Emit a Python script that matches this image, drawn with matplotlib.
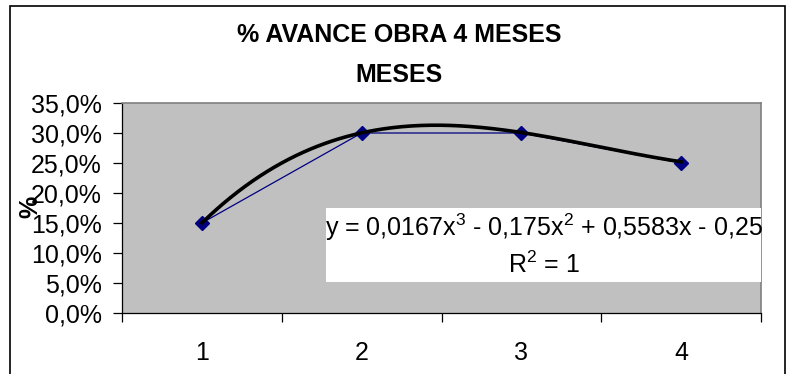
import matplotlib
matplotlib.use("Agg")
import matplotlib.pyplot as plt
from matplotlib.patches import Rectangle
from matplotlib.ticker import FuncFormatter
import numpy as np

plt.rcParams['font.family'] = ['Liberation Sans', 'DejaVu Sans']
plt.rcParams['mathtext.fontset'] = 'custom'
plt.rcParams['mathtext.rm'] = 'Liberation Sans'
plt.rcParams['mathtext.it'] = 'Liberation Sans'

# Monthly progress data
meses = [1, 2, 3, 4]
avance = [0.15, 0.30, 0.30, 0.25]
y_ticks = [0.0, 0.05, 0.10, 0.15, 0.20, 0.25, 0.30, 0.35]

# Cubic trendline coefficients (x^3, x^2, x, const)
coef = [0.0167, -0.175, 0.5583, -0.25]
eq_line1 = "y = 0,0167x$^3$ - 0,175x$^2$ + 0,5583x - 0,25"
eq_line2 = "R$^2$ = 1"

titulo1 = "% AVANCE OBRA 4 MESES"
titulo2 = "MESES"
ylabel = "%"

FS = 18

W, H = 789, 374
fig = plt.figure(figsize=(W / 100, H / 100), dpi=100)
fig.patch.set_facecolor('white')

# outer chart frame
fig.patches.append(Rectangle((10 / W, -0.05), 775 / W, 1.05 - 6 / H,
                             transform=fig.transFigure, fill=False,
                             edgecolor='black', linewidth=1.2))

ax = fig.add_axes([122 / W, 1 - 313 / H, 639 / W, 210 / H])
ax.set_facecolor('#C0C0C0')

# series line with diamond markers
ax.plot(meses, avance, color='#000080', linewidth=0.9, marker='D',
        markersize=7.5, markerfacecolor='#000080', markeredgecolor='#000080',
        zorder=3)

# polynomial trendline
xs = np.linspace(meses[0], meses[-1], 200)
ys = np.polyval(coef, xs)
ax.plot(xs, ys, color='black', linewidth=2.6, zorder=4)

ax.set_xlim(0.5, 4.5)
ax.set_ylim(0, 0.35)
ax.set_yticks(y_ticks)
ax.yaxis.set_major_formatter(FuncFormatter(lambda v, p: f"{v * 100:.1f}%".replace('.', ',')))

ax.set_xticks([m - 0.5 for m in meses] + [meses[-1] + 0.5])
ax.set_xticklabels([])
ax.set_xticks(meses, minor=True)
ax.set_xticklabels([str(m) for m in meses], minor=True)

ax.tick_params(axis='y', direction='out', length=6.5, width=0.9, pad=8,
               labelsize=FS, colors='black')
ax.tick_params(axis='x', which='major', direction='out', length=6.5, width=0.9)
ax.tick_params(axis='x', which='minor', length=0, pad=20, labelsize=FS)

for side in ('left', 'bottom'):
    ax.spines[side].set_color('black')
    ax.spines[side].set_linewidth(0.9)
for side in ('top', 'right'):
    ax.spines[side].set_color('#808080')
    ax.spines[side].set_linewidth(1.2)

# equation box
x0 = (326 - 122) / 639
y0 = (313 - 282) / 210
y1 = (313 - 208) / 210
ax.add_patch(Rectangle((x0, y0), 1 - x0, y1 - y0, transform=ax.transAxes,
                       facecolor='white', edgecolor='none', zorder=5))
xc = (544 - 122) / 639
ax.text(xc, (313 - 227) / 210, eq_line1, transform=ax.transAxes,
        ha='center', va='center', fontsize=FS, zorder=6)
ax.text(xc, (313 - 265) / 210, eq_line2, transform=ax.transAxes,
        ha='center', va='center', fontsize=FS, zorder=6)

# titles and axis label
fig.text(399 / W, 1 - 35 / H, titulo1, ha='center', va='center',
         fontsize=FS, fontweight='bold')
fig.text(399 / W, 1 - 75 / H, titulo2, ha='center', va='center',
         fontsize=FS, fontweight='bold')
fig.text(30 / W, 1 - 207 / H, ylabel, ha='center', va='center',
         fontsize=FS, fontweight='bold', rotation=90)

fig.savefig('out.png', dpi=100, facecolor='white')
